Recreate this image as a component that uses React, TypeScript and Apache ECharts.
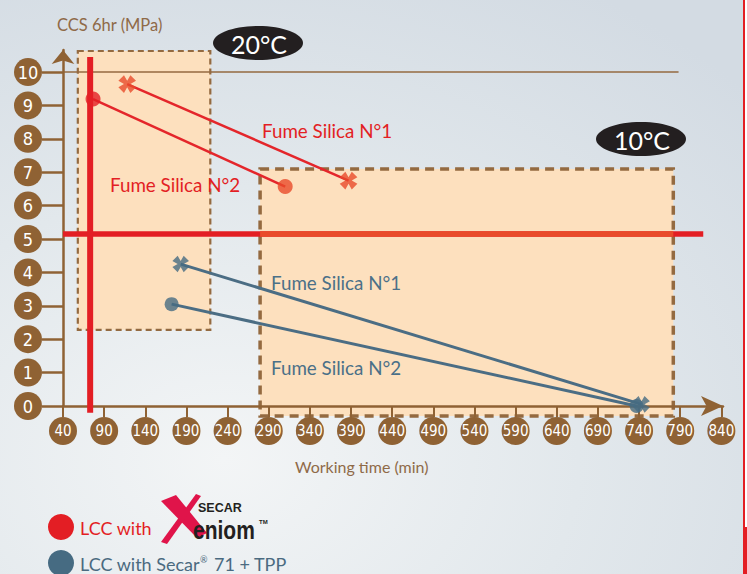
import React, { useEffect, useRef } from "react";
import * as echarts from "echarts";

// ---- data ----
const xTicks = [40, 90, 140, 190, 240, 290, 340, 390, 440, 490, 540, 590, 640, 690, 740, 790, 840];
const yTicks = [0, 1, 2, 3, 4, 5, 6, 7, 8, 9, 10];

// LCC with Secar Xeniom (red)
const xeniomFumeSilica1 = [[118, 9.64], [387, 6.75]];
const xeniomFumeSilica2 = [[76.5, 9.19], [310, 6.57]];
// LCC with Secar 71 + TPP (blue)
const secarFumeSilica1 = [[183, 4.25], [743, 0.05]];
const secarFumeSilica2 = [[172, 3.05], [737, 0]];

// requirement lines
const limitTime = 73; // min
const limitStrength = 5.15; // MPa
const limitStrengthRange = [40, 818];
const ccsMaxLine = [40, 788];
const ccsMaxValue = 10;

// working windows [xMin, yMin, xMax, yMax]
const window20 = [58, 2.28, 219, 10.63];
const window10 = [279.5, -0.3, 781.6, 7.1];

const BROWN = "#8f6234";
const RED = "#e31e24";
const ORANGE = "#e94b2a";
const BLUE = "#466b82";
const PEACH = "#fde0be";
const FONT = "Lato, 'Noto Sans', sans-serif";
const NARROW = "'Liberation Sans Narrow', 'DejaVu Sans Condensed', 'Roboto Condensed', sans-serif";

const CROSS =
  "path://M-1.4,-3L1.4,-3L0.8,-0.8L3,-1.4L3,1.4L0.8,0.8L1.4,3L-1.4,3L-0.8,0.8L-3,1.4L-3,-1.4L-0.8,-0.8Z";

export default function App() {
  const ref = useRef<HTMLDivElement>(null);

  useEffect(() => {
    if (!ref.current) return;
    const chart = echarts.init(ref.current, null, { renderer: "svg" });

    const circleLabel = {
      color: "#fff",
      fontFamily: NARROW,
      fontSize: 16,
      width: 28,
      height: 28,
      lineHeight: 28,
      borderRadius: 14,
      backgroundColor: BROWN,
      align: "center",
      verticalAlign: "middle",
      padding: 0,
    };

    const seg = (data: number[][], color: string, width: number, z: number) => ({
      type: "line",
      data,
      showSymbol: false,
      symbol: "none",
      clip: false,
      silent: true,
      z,
      lineStyle: { color, width, cap: "butt" },
    });

    const windows = [window20, window10];

    const option: any = {
      animation: false,
      backgroundColor: new echarts.graphic.RadialGradient(0.3, 0.8, 0.95, [
        { offset: 0, color: "#f3f5f6" },
        { offset: 0.5, color: "#e2e8ec" },
        { offset: 1, color: "#d3dbe3" },
      ]),
      grid: { left: 63, right: 24, top: 50, bottom: 168, containLabel: false },
      xAxis: {
        type: "value",
        min: 40,
        max: 842,
        z: 3,
        splitLine: { show: false },
        axisLine: {
          show: true,
          onZero: false,
          symbol: ["none", "arrow"],
          symbolSize: [15, 22],
          lineStyle: { color: BROWN, width: 2.5 },
        },
        axisTick: { show: true, customValues: xTicks, length: 11, lineStyle: { color: BROWN, width: 2 } },
        axisLabel: { ...circleLabel, customValues: xTicks, margin: 25, fontSize: 15 },
      },
      yAxis: {
        type: "value",
        min: 0,
        max: 10.66,
        z: 3,
        splitLine: { show: false },
        axisLine: {
          show: true,
          onZero: false,
          symbol: ["none", "arrow"],
          symbolSize: [17, 14],
          lineStyle: { color: BROWN, width: 2.5 },
        },
        axisTick: { show: true, customValues: yTicks, length: 21, lineStyle: { color: BROWN, width: 2.5 } },
        axisLabel: { ...circleLabel, customValues: yTicks, margin: 35, fontSize: 18 },
      },
      series: [
        {
          type: "custom",
          z: 1,
          silent: true,
          clip: false,
          data: windows,
          renderItem: (params: any, api: any) => {
            const p0 = api.coord([api.value(0), api.value(3)]);
            const p1 = api.coord([api.value(2), api.value(1)]);
            const thick = params.dataIndex === 1;
            return {
              type: "rect",
              shape: { x: p0[0], y: p0[1], width: p1[0] - p0[0], height: p1[1] - p0[1] },
              style: {
                fill: PEACH,
                stroke: "#946a40",
                lineWidth: thick ? 3.5 : 2.2,
                lineDash: thick ? [9, 6] : [6, 4],
              },
            };
          },
        },
        seg(ccsMaxLine.map((x) => [x, ccsMaxValue]), "#946a40", 1.5, 2),
        seg(limitStrengthRange.map((x) => [x, limitStrength]), RED, 5.5, 4),
        seg([[window10[0], limitStrength], [window10[2], limitStrength]], ORANGE, 5.5, 4),
        seg([[limitTime, 10.45], [limitTime, -0.2]], RED, 6, 4),
        seg(xeniomFumeSilica1, "#e4262b", 2.5, 5),
        seg(xeniomFumeSilica2, "#e4262b", 2.5, 5),
        seg(secarFumeSilica1, "#4b6d84", 3, 5),
        seg(secarFumeSilica2, "#4b6d84", 3, 5),
        {
          type: "scatter",
          z: 6,
          silent: true,
          clip: false,
          data: [
            { value: xeniomFumeSilica1[0], symbol: CROSS, symbolSize: 17, symbolRotate: 45, itemStyle: { color: ORANGE } },
            { value: xeniomFumeSilica1[1], symbol: CROSS, symbolSize: 17, symbolRotate: 45, itemStyle: { color: ORANGE } },
            { value: xeniomFumeSilica2[0], symbol: "circle", symbolSize: 15, itemStyle: { color: RED } },
            { value: xeniomFumeSilica2[1], symbol: "circle", symbolSize: 15, itemStyle: { color: ORANGE } },
            { value: secarFumeSilica2[0], symbol: "circle", symbolSize: 14, itemStyle: { color: BLUE } },
            { value: secarFumeSilica2[1], symbol: "circle", symbolSize: 14, itemStyle: { color: BLUE } },
            { value: secarFumeSilica1[0], symbol: CROSS, symbolSize: 16, symbolRotate: 45, itemStyle: { color: BLUE } },
            { value: secarFumeSilica1[1], symbol: CROSS, symbolSize: 16, symbolRotate: 45, itemStyle: { color: BLUE } },
          ],
        },
      ],
      graphic: [
        // right-edge stripe
        { type: "rect", z: 100, shape: { x: 745, y: 0, width: 2, height: 527 }, style: { fill: "#ffffff" } },
        { type: "rect", z: 101, shape: { x: 743, y: 0, width: 2, height: 574 }, style: { fill: RED } },
        { type: "rect", z: 101, shape: { x: 743, y: 527, width: 4, height: 47 }, style: { fill: RED } },
        // axis titles
        {
          type: "text", z: 100, x: 57, y: 25,
          style: { text: "CCS 6hr (MPa)", fill: "#8f6a48", font: `16.5px ${FONT}`, verticalAlign: "middle" },
        },
        {
          type: "text", z: 100, x: 295, y: 466,
          style: { text: "Working time (min)", fill: "#8f6a48", font: `16px ${FONT}`, verticalAlign: "middle" },
        },
        // temperature badges
        { type: "ellipse", z: 100, shape: { cx: 258, cy: 43, rx: 45, ry: 17 }, style: { fill: "#231f20" } },
        {
          type: "text", z: 101, x: 259, y: 44,
          style: { text: "20°C", fill: "#fff", font: `25px ${FONT}`, align: "center", verticalAlign: "middle" },
        },
        { type: "ellipse", z: 100, shape: { cx: 641, cy: 139, rx: 45, ry: 17 }, style: { fill: "#231f20" } },
        {
          type: "text", z: 101, x: 642, y: 140,
          style: { text: "10°C", fill: "#fff", font: `25px ${FONT}`, align: "center", verticalAlign: "middle" },
        },
        // curve annotations
        {
          type: "text", z: 100, x: 262, y: 130,
          style: { text: "Fume Silica N°1", fill: RED, font: `18.8px ${FONT}`, verticalAlign: "middle" },
        },
        {
          type: "text", z: 100, x: 110, y: 184,
          style: { text: "Fume Silica N°2", fill: RED, font: `18.8px ${FONT}`, verticalAlign: "middle" },
        },
        {
          type: "text", z: 100, x: 271, y: 282,
          style: { text: "Fume Silica N°1", fill: "#4b7088", font: `18.8px ${FONT}`, verticalAlign: "middle" },
        },
        {
          type: "text", z: 100, x: 271, y: 367,
          style: { text: "Fume Silica N°2", fill: "#4b7088", font: `18.8px ${FONT}`, verticalAlign: "middle" },
        },
        // legend
        { type: "circle", z: 100, shape: { cx: 61, cy: 527, r: 13 }, style: { fill: RED } },
        {
          type: "text", z: 100, x: 80, y: 528,
          style: { text: "LCC with", fill: RED, font: `18px ${FONT}`, verticalAlign: "middle" },
        },
        {
          type: "polygon", z: 100,
          shape: { points: [[161, 501], [176, 495], [207, 533], [197, 538]] },
          style: { fill: "#e0144a" },
        },
        {
          type: "polygon", z: 100,
          shape: { points: [[196, 494], [201, 496], [167, 544], [161, 542]] },
          style: { fill: "#e0144a" },
        },
        {
          type: "text", z: 101, x: 198, y: 508,
          style: { text: "SECAR", fill: "#231f20", font: `bold 12.5px 'Liberation Sans', sans-serif`, verticalAlign: "middle" },
        },
        {
          type: "text", z: 101, x: 193, y: 530, scaleX: 0.84, originX: 0, originY: 0,
          style: { text: "eniom", fill: "#231f20", font: `bold 25px 'Liberation Sans', sans-serif`, verticalAlign: "middle" },
        },
        {
          type: "text", z: 101, x: 259, y: 522,
          style: { text: "TM", fill: "#231f20", font: `bold 6px 'Liberation Sans', sans-serif`, verticalAlign: "middle" },
        },
        { type: "circle", z: 100, shape: { cx: 61, cy: 563, r: 13 }, style: { fill: BLUE } },
        {
          type: "text", z: 100, x: 80, y: 564,
          style: {
            text: "LCC with Secar{sup|®} 71 + TPP",
            fill: "#4a6a80",
            font: `18px ${FONT}`,
            verticalAlign: "middle",
            rich: { sup: { fontSize: 9, fill: "#4a6a80", fontFamily: FONT, verticalAlign: "top", padding: [0, 2, 8, 0] } },
          },
        },
      ],
    };

    chart.setOption(option);
    return () => chart.dispose();
  }, []);

  return (
    <div
      ref={ref}
      style={{ position: "absolute", left: 0, top: 0, width: 747, height: 574 }}
    />
  );
}
